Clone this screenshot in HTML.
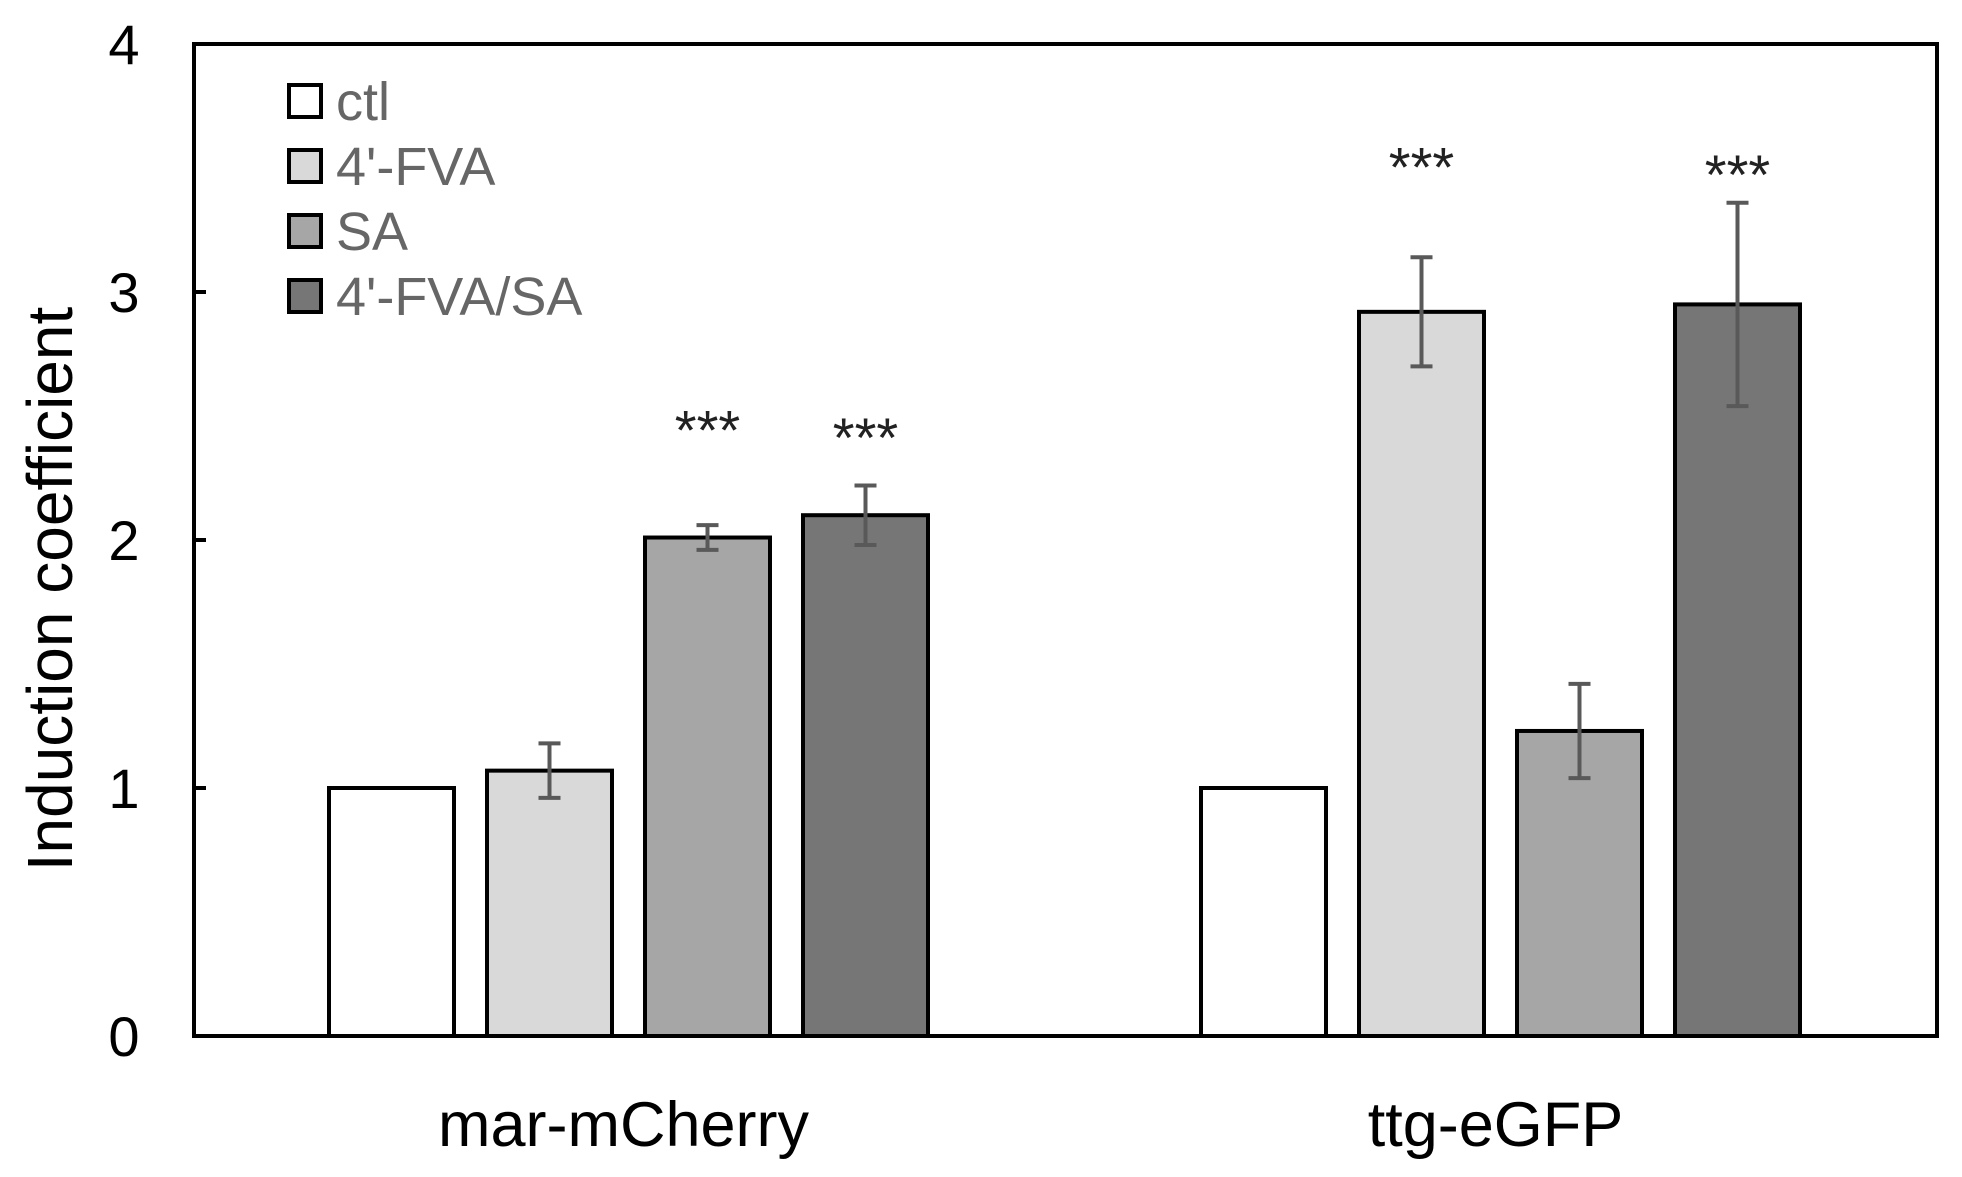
<!DOCTYPE html>
<html><head><meta charset="utf-8"><style>
html,body{margin:0;padding:0;background:#fff;width:1962px;height:1177px;overflow:hidden}
svg{display:block;font-family:"Liberation Sans","DejaVu Sans",sans-serif}
</style></head><body>
<svg id="chart" width="1962" height="1177" viewBox="0 0 1962 1177" xmlns="http://www.w3.org/2000/svg"></svg>
<script>
const categories = ["mar-mCherry", "ttg-eGFP"];
const seriesNames = ["ctl", "4'-FVA", "SA", "4'-FVA/SA"];
const seriesColors = ["#ffffff", "#d9d9d9", "#a6a6a6", "#767676"];
const ctlValues = [1, 1];
const fvaValues = [1.07, 2.92];
const saValues = [2.01, 1.23];
const comboValues = [2.10, 2.95];
const fvaErrors = [0.11, 0.22];
const saErrors = [0.05, 0.19];
const comboErrors = [0.12, 0.41];
const ctlErrors = [0, 0];
const starFlags = [[0,0,1,1],[0,1,0,1]];
const starLevels = [[0,0,2.49,2.46],[0,3.55,0,3.52]];
const yTicks = [0, 1, 2, 3, 4];

const NS = "http://www.w3.org/2000/svg";
const svg = document.getElementById("chart");
const L = 194, R = 1937, T = 44, B = 1036, yMax = 4;
const groupStart = [329, 1201], pitch = 158, barW = 125;
function y(v){ return B - (v / yMax) * (B - T); }
function x(g, s){ return groupStart[g] + s * pitch; }
function mk(tag, attrs, parent){ const e = document.createElementNS(NS, tag); for (const k in attrs) e.setAttribute(k, attrs[k]); (parent||svg).appendChild(e); return e; }

const values = [ctlValues, fvaValues, saValues, comboValues];
const errors = [ctlErrors, fvaErrors, saErrors, comboErrors];

yTicks.forEach(t => {
  const tk = mk("line", {x1:L, x2:L+12, y1:y(t), y2:y(t), stroke:"#000", "stroke-width":4});
  
  
  const lb = mk("text", {x:124, y:y(t)+20, "font-size":56, "text-anchor":"middle", fill:"#000"});
  lb.textContent = t;
  
  
});

categories.forEach((c, g) => {
  values.forEach((arr, s) => {
    const v = arr[g];
    const r = mk("rect", {x:x(g,s), y:y(v), width:barW, height:B-y(v), fill:seriesColors[s], stroke:"#000", "stroke-width":4});
    
    
    const e = errors[s][g];
    if (e > 0) {
      const cx = x(g,s) + barW/2;
      const eg = mk("g", {stroke:"#595959", "stroke-width":4});
      
      
      mk("line", {x1:cx, x2:cx, y1:y(v+e), y2:y(v-e)}, eg);
      mk("line", {x1:cx-11, x2:cx+11, y1:y(v+e), y2:y(v+e)}, eg);
      mk("line", {x1:cx-11, x2:cx+11, y1:y(v-e), y2:y(v-e)}, eg);
    }
    if (starFlags[g][s]) {
      const st = mk("text", {x:x(g,s)+barW/2, y:y(starLevels[g][s])+31, "font-size":56, "text-anchor":"middle", fill:"#222"});
      st.textContent = "***";
      
      
    }
  });
  const cl = mk("text", {x:x(g,0) + (3*pitch+barW)/2 - 5, y:1146, "font-size":63, "text-anchor":"middle", fill:"#000"});
  cl.textContent = c;
  
  
});

const fr = mk("rect", {x:L, y:T, width:R-L, height:B-T, fill:"none", stroke:"#000", "stroke-width":4});



const yt = mk("text", {x:0, y:0, "font-size":64, "text-anchor":"middle", fill:"#000", transform:"translate(72,589) rotate(-90)"});
yt.textContent = "Induction coefficient";



seriesNames.forEach((n, i) => {
  const cy = 101 + i * 65;
  const g = mk("g", {});
  
  
  mk("rect", {x:289, y:cy-16, width:32, height:32, fill:seriesColors[i], stroke:"#000", "stroke-width":4}, g);
  const t = mk("text", {x:336, y:cy+19, "font-size":54, fill:"#666"}, g);
  t.textContent = n;
});
</script>
</body></html>
